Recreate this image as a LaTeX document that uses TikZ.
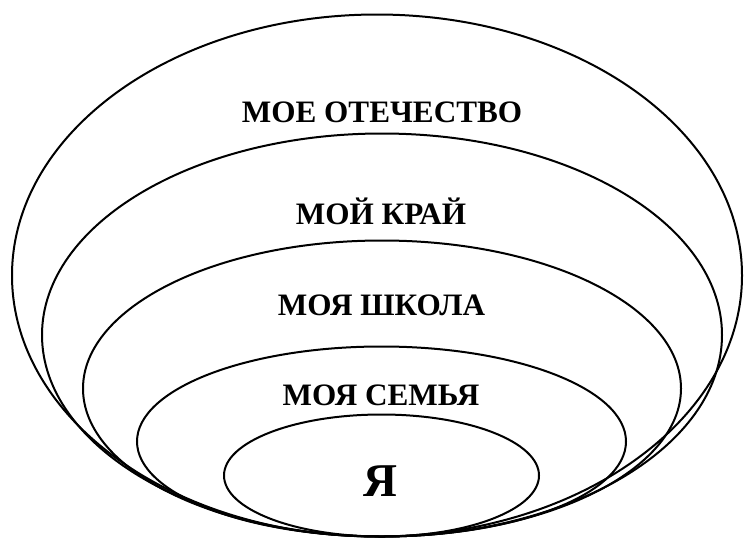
\documentclass[tikz,border=0pt]{standalone}
\usepackage{fontspec}
\setmainfont{Liberation Serif}
\newfontfamily\labelfont{Liberation Serif}[BoldFont={Liberation Serif Bold}]
\usepackage{tikz}
\usetikzlibrary{positioning}

\begin{document}
\begin{tikzpicture}[
    x=0.5pt, y=0.5pt,
    ring/.style={line width=1pt, draw=black},
    lbl/.style={anchor=base, inner sep=0pt, font=\labelfont\bfseries\fontsize{15.6}{18}\selectfont},
    lblbig/.style={lbl, font=\labelfont\bfseries\fontsize{23.5}{28}\selectfont}
]
\useasboundingbox (0,0) rectangle (744,538);

% nested circles, all touching at the bottom
\draw[ring] (377,262.5) ellipse [x radius=365, y radius=261];
\draw[ring] (382,203)   ellipse [x radius=340, y radius=201.5];
\draw[ring] (382,149.5) ellipse [x radius=299, y radius=148];
\draw[ring] (381.5,96.5) ellipse [x radius=244.5, y radius=95];
\draw[ring] (381.5,62.5) ellipse [x radius=157.5, y radius=61];

\node[lbl] (country) at (382,416) {МОЕ ОТЕЧЕСТВО};
\node[lbl] (region)  at (381,314) {МОЙ КРАЙ};
\node[lbl] (school)  at (381.5,223) {МОЯ ШКОЛА};
\node[lbl] (family)  at (381,133) {МОЯ СЕМЬЯ};
\node[lblbig] (self) at (380,42) {Я};
\end{tikzpicture}
\end{document}
